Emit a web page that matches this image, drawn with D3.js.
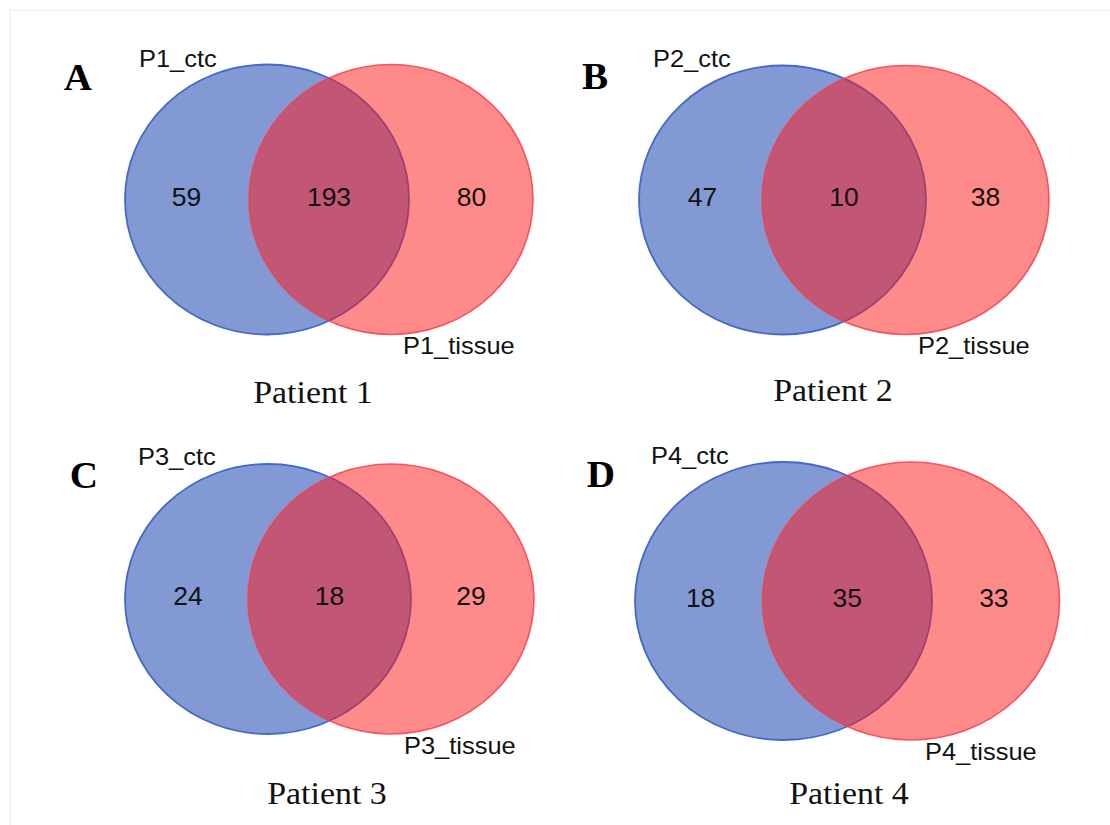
<!DOCTYPE html>
<html>
<head>
<meta charset="utf-8">
<script src="https://cdn.jsdelivr.net/npm/d3@7"></script>
<style>
  html, body { margin: 0; padding: 0; background: #fff; }
  svg { display: block; }
</style>
</head>
<body>
<svg id="chart" width="1110" height="825"></svg>
<script>
// ---- data ----
const panelLetters = ["A", "B", "C", "D"];
const patientTitles = ["Patient 1", "Patient 2", "Patient 3", "Patient 4"];
const ctcLabels = ["P1_ctc", "P2_ctc", "P3_ctc", "P4_ctc"];
const tissueLabels = ["P1_tissue", "P2_tissue", "P3_tissue", "P4_tissue"];
const ctcOnly = [59, 47, 24, 18];
const shared = [193, 10, 18, 35];
const tissueOnly = [80, 38, 29, 33];

// ---- layout (geometry per panel) ----
const layout = [
  { bx: 267,   rx2: 391,   cy: 199.5, rx: 142,   ry: 135,   letter: [78, 90],   ctc: [139, 67],  tis: [403, 354], title: [313, 403] },
  { bx: 782.5, rx2: 905.5, cy: 200,   rx: 143.5, ry: 134.5, letter: [595, 89],  ctc: [653, 67],  tis: [918, 354], title: [833, 401] },
  { bx: 268,   rx2: 391,   cy: 599,   rx: 143,   ry: 135,   letter: [84, 488],  ctc: [138, 465], tis: [404, 754], title: [327, 804] },
  { bx: 783.5, rx2: 911,   cy: 601,   rx: 148.5, ry: 139,   letter: [601, 487], ctc: [651, 464], tis: [925, 760], title: [849, 804] }
];
const stretch = 1.06;

const svg = d3.select("#chart");

// faint frame lines
svg.append("line").attr("x1", 10).attr("y1", 10).attr("x2", 1110).attr("y2", 10)
  .attr("stroke", "#ececec").attr("stroke-width", 1);
svg.append("line").attr("x1", 10).attr("y1", 10).attr("x2", 10).attr("y2", 825)
  .attr("stroke", "#ececec").attr("stroke-width", 1);

const panels = panelLetters.map((l, i) => ({
  letter: l, title: patientTitles[i], ctc: ctcLabels[i], tissue: tissueLabels[i],
  a: ctcOnly[i], ab: shared[i], b: tissueOnly[i], g: layout[i]
}));

const sans = "Arial, 'Liberation Sans', Helvetica, sans-serif";
const serif = "'Times New Roman', 'Liberation Serif', Times, serif";

const g = svg.selectAll("g.panel").data(panels).join("g").attr("class", "panel");

// blue set
g.append("ellipse")
  .attr("cx", d => d.g.bx).attr("cy", d => d.g.cy)
  .attr("rx", d => d.g.rx).attr("ry", d => d.g.ry)
  .attr("fill", "rgb(5,51,167)").attr("fill-opacity", 0.5)
  .attr("stroke", "#4168cc").attr("stroke-width", 1.8);

// red set
g.append("ellipse")
  .attr("cx", d => d.g.rx2).attr("cy", d => d.g.cy)
  .attr("rx", d => d.g.rx).attr("ry", d => d.g.ry)
  .attr("fill", "rgb(255,21,21)").attr("fill-opacity", 0.5)
  .attr("stroke", "#f2404e").attr("stroke-width", 1.6).attr("stroke-opacity", 0.85);

function place(sel, fx, fy) {
  return sel.attr("transform", d => `translate(${fx(d)},${fy(d)}) scale(${stretch},1)`);
}

// counts
const numSize = 25;
place(g.append("text"), d => d.g.bx - (d.g.rx2 - d.g.bx) * 0.65, d => d.g.cy + 6)
  .attr("text-anchor", "middle").attr("font-family", sans).attr("font-size", numSize)
  .attr("fill", "#111").text(d => d.a);
place(g.append("text"), d => (d.g.bx + d.g.rx2) / 2, d => d.g.cy + 6)
  .attr("text-anchor", "middle").attr("font-family", sans).attr("font-size", numSize)
  .attr("fill", "#111").text(d => d.ab);
place(g.append("text"), d => d.g.rx2 + (d.g.rx2 - d.g.bx) * 0.65, d => d.g.cy + 6)
  .attr("text-anchor", "middle").attr("font-family", sans).attr("font-size", numSize)
  .attr("fill", "#111").text(d => d.b);

// set labels
place(g.append("text"), d => d.g.ctc[0], d => d.g.ctc[1])
  .attr("font-family", sans).attr("font-size", 24).attr("fill", "#111")
  .text(d => d.ctc);
place(g.append("text"), d => d.g.tis[0], d => d.g.tis[1])
  .attr("font-family", sans).attr("font-size", 24).attr("fill", "#111")
  .text(d => d.tissue);

// panel letters
place(g.append("text"), d => d.g.letter[0], d => d.g.letter[1])
  .attr("text-anchor", "middle").attr("font-family", serif).attr("font-weight", "bold")
  .attr("font-size", 37).attr("fill", "#000")
  .text(d => d.letter);

// patient titles
place(g.append("text"), d => d.g.title[0], d => d.g.title[1])
  .attr("text-anchor", "middle").attr("font-family", serif)
  .attr("font-size", 32).attr("fill", "#111")
  .text(d => d.title);
</script>
</body>
</html>
